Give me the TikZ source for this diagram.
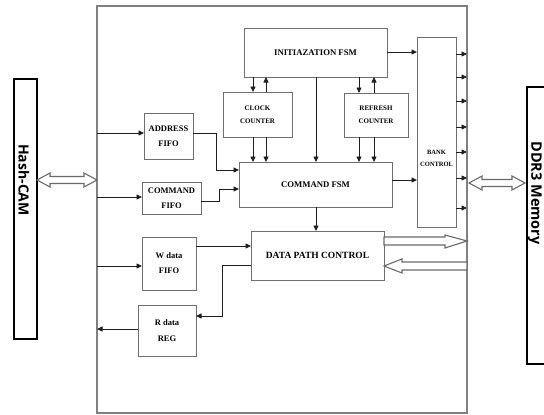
\documentclass[tikz,border=0pt]{standalone}
\usepackage{fontspec}
\setmainfont{Liberation Serif}
\newfontfamily\labsans{Open Sans}
\usetikzlibrary{arrows.meta,calc}
\definecolor{boxgray}{HTML}{6E6E6E}
\definecolor{outergray}{HTML}{808080}
\definecolor{holgray}{HTML}{6A6A6A}
\definecolor{arrblack}{HTML}{1E1E1E}
\begin{document}
\begin{tikzpicture}[x=1pt,y=-1pt,
  blk/.style={draw=boxgray,line width=1pt,inner sep=0pt,outer sep=0pt,anchor=north west,align=center,font=\bfseries},
  extbox/.style={draw=black,line width=1.4pt,inner sep=0pt,outer sep=0pt,anchor=north west},
  arr/.style={draw=arrblack,line width=0.8pt,-{Triangle[length=5.5pt,width=5pt]}},
  hol/.style={draw=holgray,line width=1.1pt,fill=white,line join=miter}]
\fill[white] (0,0) rectangle (544,415);
\useasboundingbox (0,0) rectangle (544,415);
% outer frame
\node[draw=outergray,line width=1.1pt,inner sep=0pt,outer sep=0pt,anchor=north west,minimum width=370pt,minimum height=407pt] (outer) at (97,6) {};
% external boxes
\node[extbox,minimum width=23pt,minimum height=260pt] (hash) at (14,79) {};
\node[rotate=-90,font=\labsans\bfseries\fontsize{14}{16}\selectfont] (hashlab) at (24,180) {Hash-CAM};
\node[extbox,minimum width=22pt,minimum height=277pt] (ddr) at (527,87) {};
\node[rotate=-90,font=\labsans\bfseries\fontsize{14.5}{16}\selectfont] (ddrlab) at (535,193) {DDR3 Memory};
% internal blocks
\node[blk,minimum width=143pt,minimum height=49pt,font=\bfseries\fontsize{8.7}{10}\selectfont] (init) at (244,28) {INITIAZATION FSM};
\node[blk,minimum width=69pt,minimum height=45pt,font=\bfseries\fontsize{7}{13}\selectfont] (clock) at (223,92) {CLOCK\\COUNTER};
\node[blk,minimum width=64pt,minimum height=44pt,font=\bfseries\fontsize{7}{13}\selectfont] (refresh) at (344,93) {REFRESH\\COUNTER};
\node[blk,minimum width=39pt,minimum height=190pt] (bank) at (417,37) {};
\node[align=center,font=\bfseries\fontsize{6.5}{12}\selectfont,inner sep=0pt] (banklab) at (436.5,158) {BANK\\CONTROL};
\node[blk,minimum width=49pt,minimum height=46pt,font=\bfseries\fontsize{8.5}{15}\selectfont] (addr) at (144,113) {ADDRESS\\FIFO};
\node[blk,minimum width=59pt,minimum height=32pt,font=\bfseries\fontsize{8.5}{15}\selectfont] (cmdfifo) at (142,182) {COMMAND\\FIFO};
\node[blk,minimum width=153pt,minimum height=45pt,font=\bfseries\fontsize{8.7}{10}\selectfont] (cmdfsm) at (239,162) {COMMAND FSM};
\node[blk,minimum width=54pt,minimum height=53pt,font=\bfseries\fontsize{8.5}{15}\selectfont] (wfifo) at (142,237) {W data\\FIFO};
\node[blk,minimum width=133pt,minimum height=49pt,font=\bfseries\fontsize{9.5}{11}\selectfont] (dpc) at (251,231) {DATA PATH CONTROL};
\node[blk,minimum width=58pt,minimum height=51pt,font=\bfseries\fontsize{8.5}{16}\selectfont] (rreg) at (138,305) {R data\\REG};
% init <-> counters
\draw[arr] (init.south -| 253,0) -- (clock.north -| 253,0);
\draw[arr] (clock.north -| 266,0) -- (init.south -| 266,0);
\draw[arr] (init.south -| 359,0) -- (refresh.north -| 359,0);
\draw[arr] (refresh.north -| 374,0) -- (init.south -| 374,0);
% counters -> command fsm
\draw[arr] (clock.south -| 253,0) -- (cmdfsm.north -| 253,0);
\draw[arr] (clock.south -| 266,0) -- (cmdfsm.north -| 266,0);
\draw[arr] (refresh.south -| 359,0) -- (cmdfsm.north -| 359,0);
\draw[arr] (refresh.south -| 374,0) -- (cmdfsm.north -| 374,0);
\draw[arr] (init.south -| 316,0) -- (cmdfsm.north -| 316,0);
% to bank control
\draw[arr] (init.east |- 0,52) -- (bank.west |- 0,52);
\draw[arr] (cmdfsm.east |- 0,180) -- (bank.west |- 0,180);
\foreach \yy in {54,77,101,127,152,178,208}
  \draw[arr] (bank.east |- 0,\yy) -- (outer.east |- 0,\yy);
% fifo inputs
\draw[arr] (outer.west |- 0,133) -- (addr.west |- 0,133);
\draw[arr] (outer.west |- 0,197) -- (cmdfifo.west |- 0,197);
\draw[arr] (outer.west |- 0,266) -- (wfifo.west |- 0,266);
\draw[arr] (rreg.west |- 0,329) -- (outer.west |- 0,329);
% fifo outputs
\draw[arr] (addr.east |- 0,133) -| (216,170) -- (cmdfsm.west |- 0,170);
\draw[arr] (cmdfifo.east |- 0,201) -| (219,189) -- (cmdfsm.west |- 0,189);
\draw[arr] (cmdfsm.south -| 316,0) -- (dpc.north -| 316,0);
\draw[arr] (wfifo.east |- 0,246) -- (dpc.west |- 0,246);
\draw[arr] (dpc.west |- 0,265) -| (222,316) -- (rreg.east |- 0,316);
% hollow data arrows
\draw[hol] (dpc.east |- 0,237) -- ++(61,0) -- ++(0,-2) -- ++(22,6) -- ++(-22,7) -- ++(0,-3) -- ++(-61,0) -- cycle;
\draw[hol] (dpc.east |- 0,266) -- ++(18,-7) -- ++(0,3) -- ++(65,0) -- ++(0,8) -- ++(-65,0) -- ++(0,3) -- cycle;
% double hollow arrows
\draw[hol] (hash.east |- 0,180) -- ++(13,-7) -- ++(0,3.5) -- ++(34,0) -- ++(0,-3.5) -- ++(13,7) -- ++(-13,7) -- ++(0,-3.5) -- ++(-34,0) -- ++(0,3.5) -- cycle;
\draw[hol] ($(outer.east |- 0,183)+(2,0)$) -- ++(13,-7) -- ++(0,3.5) -- ++(30,0) -- ++(0,-3.5) -- ++(13,7) -- ++(-13,7) -- ++(0,-3.5) -- ++(-30,0) -- ++(0,3.5) -- cycle;
\end{tikzpicture}
\end{document}
